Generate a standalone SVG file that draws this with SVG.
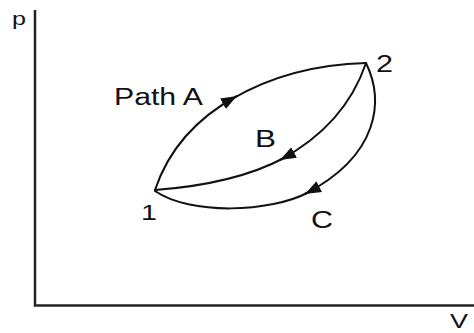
<svg xmlns="http://www.w3.org/2000/svg" width="474" height="333" viewBox="0 0 474 333">
  <style>
    .axis { fill: none; stroke: #222; stroke-width: 2.5; }
    .curve { fill: none; stroke: #111; stroke-width: 2; stroke-linecap: round; }
    .lbl { font-family: "Liberation Sans", Arial, sans-serif; fill: #111; }
  </style>
  <defs>
    <marker id="arrow" markerUnits="userSpaceOnUse" markerWidth="18" markerHeight="14" refX="16" refY="6" orient="auto">
      <path d="M0,0 L16,6 L0,12 Z" fill="#111"/>
    </marker>
  </defs>
  <rect width="474" height="333" fill="#fff"/>

  <g id="axes">
    <path class="axis" d="M35,10 L35,305.5 L474,305.5"/>
    <text class="lbl" x="12" y="25" font-size="18" textLength="14" lengthAdjust="spacingAndGlyphs">p</text>
    <text class="lbl" x="450" y="328" font-size="20" textLength="18" lengthAdjust="spacingAndGlyphs">V</text>
  </g>

  <g id="connectors">
    <g id="path-A">
      <path class="curve" d="M155,190 Q175,130 237,96" marker-end="url(#arrow)"/>
      <path class="curve" d="M232,99 Q290,65 366,63"/>
    </g>
    <g id="path-B">
      <path class="curve" d="M366,63 Q345,125 280,160" marker-end="url(#arrow)"/>
      <path class="curve" d="M284,158 Q235,184 155,190"/>
    </g>
    <g id="path-C">
      <path class="curve" d="M366,63 C384,100 380,155 305,194" marker-end="url(#arrow)"/>
      <path class="curve" d="M309,192 C270,213 190,215 155,191"/>
    </g>
  </g>

  <g id="node-1">
    <text class="lbl" x="141" y="220" font-size="22" textLength="16" lengthAdjust="spacingAndGlyphs">1</text>
  </g>
  <g id="node-2">
    <text class="lbl" x="376" y="72" font-size="23" textLength="17" lengthAdjust="spacingAndGlyphs">2</text>
  </g>

  <g id="labels">
    <text id="label-path-A" class="lbl" x="114" y="105" font-size="23" textLength="89" lengthAdjust="spacingAndGlyphs">Path A</text>
    <text id="label-B" class="lbl" x="255" y="147" font-size="24" textLength="21" lengthAdjust="spacingAndGlyphs">B</text>
    <text id="label-C" class="lbl" x="311" y="228" font-size="24" textLength="22" lengthAdjust="spacingAndGlyphs">C</text>
  </g>
</svg>
